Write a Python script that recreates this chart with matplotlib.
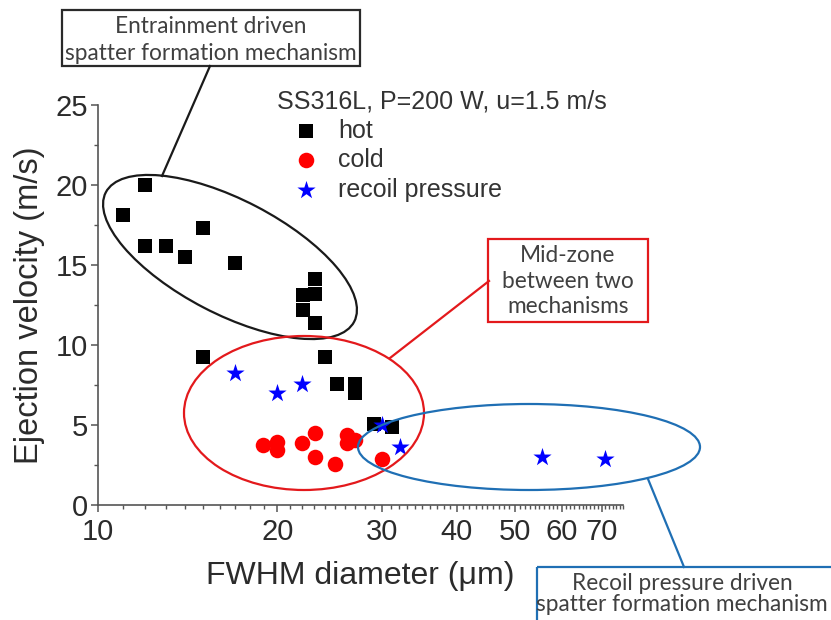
import matplotlib
matplotlib.use("Agg")
import matplotlib.pyplot as plt
from matplotlib.patches import Ellipse, Rectangle
from matplotlib.ticker import FixedLocator, NullFormatter, LogLocator

plt.rcParams["font.family"] = ["Liberation Sans", "DejaVu Sans"]

# Ejection velocity vs FWHM diameter, SS316L, P=200 W, u=1.5 m/s
hot_d = [11, 12, 12, 13, 14, 15, 17, 23.1, 22.1, 23.1, 22.1, 23.1,
         15, 24, 25.2, 27, 27, 29.1, 31.1]
hot_v = [18.1, 20.0, 16.2, 16.2, 15.5, 17.3, 15.1, 14.1, 13.1, 13.2, 12.2, 11.35,
         9.27, 9.27, 7.56, 7.55, 7.0, 5.06, 4.88]

cold_d = [18.9, 20, 20, 22, 23.1, 23.1, 25, 26.2, 26.2, 27, 30]
cold_v = [3.75, 3.96, 3.44, 3.85, 4.48, 2.98, 2.56, 4.37, 3.85, 4.06, 2.9]

recoil_d = [17, 20, 22, 30, 32.1, 55.5, 70.8]
recoil_v = [8.27, 7.0, 7.56, 5.0, 3.6, 2.98, 2.86]

x_ticks = [10, 20, 30, 40, 50, 60, 70]
y_ticks = [0, 5, 10, 15, 20, 25]

W, H = 831, 620
fig = plt.figure(figsize=(W / 100, H / 100), dpi=100)
fig.patch.set_facecolor("white")

# main axes placed in pixel terms
ax_l, ax_r, ax_t, ax_b = 98, 623, 105, 505
ax = fig.add_axes([ax_l / W, (H - ax_b) / H, (ax_r - ax_l) / W, (ax_b - ax_t) / H])

ax.scatter(hot_d, hot_v, marker="s", s=100, color="black", label="hot", zorder=3, linewidths=0)
ax.scatter(cold_d, cold_v, marker="o", s=125, color="#ff0000", label="cold", zorder=3, linewidths=0)
ax.scatter(recoil_d, recoil_v, marker="*", s=190, color="#0000ff", label="recoil pressure",
           zorder=4, linewidths=0)

ax.set_xscale("log")
ax.set_xlim(10, 76)
ax.set_ylim(0, 25)
ax.xaxis.set_major_locator(FixedLocator(x_ticks))
ax.set_xticklabels([str(t) for t in x_ticks])
ax.xaxis.set_minor_locator(LogLocator(base=10, subs=[i / 10 for i in range(10, 100)], numticks=50))
ax.xaxis.set_minor_formatter(NullFormatter())
ax.set_yticks(y_ticks)
ax.set_yticks([2.5, 7.5, 12.5, 17.5, 22.5], minor=True)

spine_c = "#555555"
for side in ("top", "right"):
    ax.spines[side].set_visible(False)
for side in ("left", "bottom"):
    ax.spines[side].set_color(spine_c)
    ax.spines[side].set_linewidth(1.2)
ax.tick_params(which="major", direction="out", length=5, width=1.1, color=spine_c,
               labelsize=21, labelcolor="#2b2b2b")
ax.tick_params(axis="x", which="major", pad=4)
ax.tick_params(axis="y", which="major", pad=2)
ax.tick_params(which="minor", direction="out", length=3, width=1.0, color=spine_c)

ax.set_xlabel("FWHM diameter (\u03bcm)", fontsize=23, color="#2b2b2b", labelpad=11)
ax.set_ylabel("Ejection velocity (m/s)", fontsize=23.5, color="#2b2b2b", labelpad=8)

leg = ax.legend(title="SS316L, P=200 W, u=1.5 m/s", loc="upper left",
                bbox_to_anchor=(277 / W, (H - 89) / H), bbox_transform=fig.transFigure,
                frameon=False, fontsize=18, title_fontsize=18, handlelength=2.3,
                handletextpad=0.15, labelspacing=0.22, borderpad=0, borderaxespad=0,
                alignment="left", scatterpoints=1)
for t in leg.get_texts():
    t.set_color("#333333")
leg.get_title().set_color("#333333")

# overlay in pixel coordinates for the mechanism callouts
ov = fig.add_axes([0, 0, 1, 1], facecolor="none")
ov.set_xlim(0, W)
ov.set_ylim(H, 0)
ov.axis("off")

black_c, red_c, blue_c = "#1a1a1a", "#e3191c", "#1f6fb4"
ov.add_patch(Ellipse((230, 257), 280, 114, angle=27.5, fill=False, ec=black_c, lw=1.6))
ov.add_patch(Ellipse((304, 413), 240, 154, angle=0, fill=False, ec=red_c, lw=1.6))
ov.add_patch(Ellipse((529, 447), 342, 86, angle=0, fill=False, ec=blue_c, lw=1.6))

box_font = ["Lato", "DejaVu Sans"]
txt_c = "#404040"

ov.add_patch(Rectangle((62, 10), 298, 56, fill=False, ec="#2a2a2a", lw=1.6))
ov.text(211, 40, "Entrainment driven\nspatter formation mechanism", ha="center", va="center",
        fontsize=16.3, family=box_font, color=txt_c, linespacing=1.3)
ov.plot([210, 162], [66, 176], color=black_c, lw=1.6)

ov.add_patch(Rectangle((488, 239), 160, 83, fill=False, ec=red_c, lw=1.6))
ov.text(568, 281, "Mid-zone\nbetween two\nmechanisms", ha="center", va="center",
        fontsize=16.3, family=box_font, color=txt_c, linespacing=1.25)
ov.plot([489, 390], [281, 358], color=red_c, lw=1.6)

ov.add_patch(Rectangle((537, 567), 320, 80, fill=False, ec=blue_c, lw=1.6, clip_on=True))
ov.text(682, 594, "Recoil pressure driven\nspatter formation mechanism", ha="center", va="center",
        fontsize=16.3, family=box_font, color=txt_c, linespacing=1.05)
ov.plot([648, 684], [479, 567], color=blue_c, lw=1.6)

fig.savefig("out.png", dpi=100, facecolor="white")
